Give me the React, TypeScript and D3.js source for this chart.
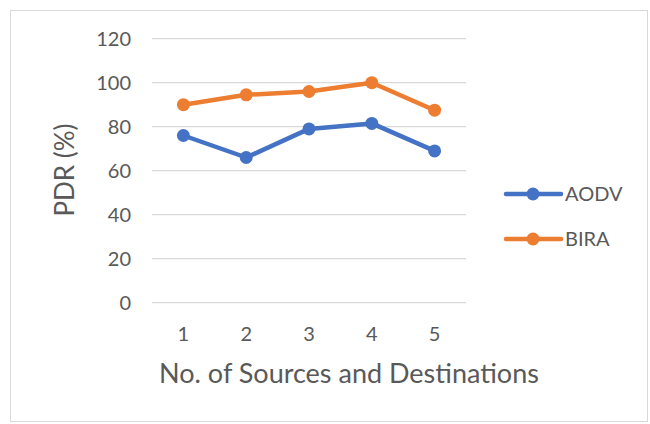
import React, { useEffect, useRef } from 'react';
import * as d3 from 'd3';

const categories = ['1', '2', '3', '4', '5'];
const aodv = [76, 66, 79, 81.5, 69];
const bira = [90, 94.5, 96, 100, 87.5];
const yTicks = [0, 20, 40, 60, 80, 100, 120];
const seriesNames = ['AODV', 'BIRA'];
const seriesColors = ['#4472C4', '#ED7D31'];

const W = 650;
const H = 424;
const FONT = 'Lato, "Open Sans", sans-serif';

export default function App() {
  const ref = useRef<SVGSVGElement>(null);

  useEffect(() => {
    const svg = d3.select(ref.current);
    svg.selectAll('*').remove();

    // chart area border
    svg.append('rect')
      .attr('x', 10.5).attr('y', 10.5)
      .attr('width', 637).attr('height', 411)
      .attr('fill', '#fff').attr('stroke', '#D9D9D9');

    const x = d3.scaleBand().domain(categories).range([152, 466]);
    const y = d3.scaleLinear().domain([0, 120]).range([302.7, 38.7]);
    const cx = (c: string) => (x(c) as number) + x.bandwidth() / 2;

    // gridlines
    svg.append('g').selectAll('line')
      .data(yTicks)
      .enter().append('line')
      .attr('x1', 152).attr('x2', 466)
      .attr('y1', d => y(d)).attr('y2', d => y(d))
      .attr('stroke', '#D9D9D9').attr('stroke-width', 1.3);

    // y tick labels
    svg.append('g').selectAll('text')
      .data(yTicks)
      .enter().append('text')
      .attr('x', 131).attr('y', d => y(d))
      .attr('dy', '0.36em')
      .attr('text-anchor', 'end')
      .attr('font-family', FONT).attr('font-size', 20)
      .attr('fill', '#595959')
      .text(d => d);

    // x tick labels
    svg.append('g').selectAll('text')
      .data(categories)
      .enter().append('text')
      .attr('x', d => cx(d)).attr('y', 334)
      .attr('dy', '0.36em')
      .attr('text-anchor', 'middle')
      .attr('font-family', FONT).attr('font-size', 20)
      .attr('fill', '#595959')
      .text(d => d);

    // axis titles
    svg.append('text')
      .attr('x', 349).attr('y', 373)
      .attr('dy', '0.36em')
      .attr('text-anchor', 'middle')
      .attr('font-family', FONT).attr('font-size', 27)
      .attr('fill', '#595959')
      .text('No. of Sources and Destinations');

    svg.append('text')
      .attr('transform', 'translate(65,170) rotate(-90)')
      .attr('dy', '0.36em')
      .attr('text-anchor', 'middle')
      .attr('font-family', FONT).attr('font-size', 26)
      .attr('fill', '#595959')
      .text('PDR (%)');

    const line = d3.line<number>()
      .x((d, i) => cx(categories[i]))
      .y(d => y(d));

    [aodv, bira].forEach((vals, si) => {
      const g = svg.append('g');
      g.append('path')
        .datum(vals)
        .attr('d', line)
        .attr('fill', 'none')
        .attr('stroke', seriesColors[si])
        .attr('stroke-width', 4.5)
        .attr('stroke-linejoin', 'round')
        .attr('stroke-linecap', 'round');
      g.selectAll('circle')
        .data(vals)
        .enter().append('circle')
        .attr('cx', (d, i) => cx(categories[i]))
        .attr('cy', d => y(d))
        .attr('r', 6.5)
        .attr('fill', seriesColors[si]);
    });

    // legend
    const legend = svg.append('g');
    seriesNames.forEach((name, i) => {
      const ly = 194 + i * 45;
      legend.append('line')
        .attr('x1', 506).attr('x2', 561)
        .attr('y1', ly).attr('y2', ly)
        .attr('stroke', seriesColors[i]).attr('stroke-width', 4.5)
        .attr('stroke-linecap', 'round');
      legend.append('circle')
        .attr('cx', 533).attr('cy', ly).attr('r', 6.5)
        .attr('fill', seriesColors[i]);
      legend.append('text')
        .attr('x', 565).attr('y', ly)
        .attr('dy', '0.36em')
        .attr('font-family', FONT).attr('font-size', 20)
        .attr('fill', '#595959')
        .text(name);
    });
  }, []);

  return (
    <svg
      ref={ref}
      width={W}
      height={H}
      style={{ position: 'absolute', left: 0, top: 0, background: '#fff' }}
    />
  );
}
